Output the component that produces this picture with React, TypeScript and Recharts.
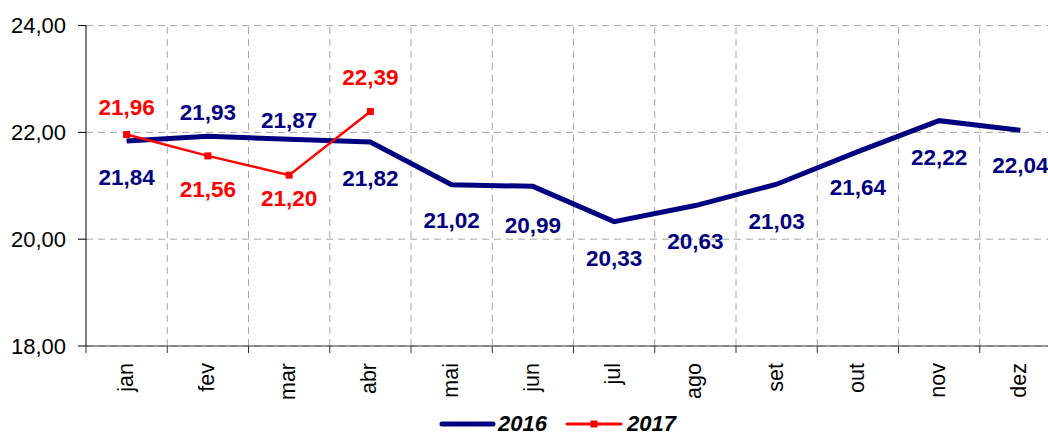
import { LineChart, Line, XAxis, YAxis, CartesianGrid, ReferenceLine, Legend, LabelList } from 'recharts';

const months = ['jan', 'fev', 'mar', 'abr', 'mai', 'jun', 'jul', 'ago', 'set', 'out', 'nov', 'dez'];
const values2016 = [21.84, 21.93, 21.87, 21.82, 21.02, 20.99, 20.33, 20.63, 21.03, 21.64, 22.22, 22.04];
const values2017 = [21.96, 21.56, 21.2, 22.39];
const yTicks = [18, 20, 22, 24];

// vertical offset of each data label from its point
const labelDy2016 = [37, -24, -19, 36, 36, 39, 37, 36, 37, 36, 37, 35];
const labelDy2017 = [-27, 34, 23, -34];

const NAVY = '#000080';
const RED = '#ff0000';
const FONT = '"Liberation Sans", Arial, sans-serif';

const data = months.map((m, i) => ({
  x: i + 0.5,
  month: m,
  y2016: values2016[i],
  y2017: i < values2017.length ? values2017[i] : null,
}));

const boundaries = months.map((_, i) => i).concat(months.length);
const xTicks = [...boundaries, ...months.map((_, i) => i + 0.5)].sort((a, b) => a - b);

const fmt = (v: number) => v.toFixed(2).replace('.', ',');

const XTick = ({ x, y, payload }: any) => {
  const v = payload.value;
  if (Number.isInteger(v)) {
    return <line x1={x} x2={x} y1={y} y2={y + 7} stroke="#333" />;
  }
  const ty = y + 17;
  return (
    <text x={x} y={ty} dy={6} transform={`rotate(-90, ${x}, ${ty})`} textAnchor="end"
      fontSize={21.5} fontFamily={FONT} fill="#000">
      {months[Math.floor(v)]}
    </text>
  );
};

const makeLabel = (offsets: number[], color: string) => (props: any) => {
  const { value, index } = props;
  if (value == null) return null;
  const x = props.x ?? props.viewBox?.x;
  const y = props.y ?? props.viewBox?.y;
  return (
    <text x={x} y={y + offsets[index]} textAnchor="middle" dominantBaseline="central"
      fontSize={22.5} fontWeight="bold" fontFamily={FONT} fill={color}>
      {fmt(value)}
    </text>
  );
};

const SquareDot = (p: any) => {
  if (p.value == null || p.cy == null) return <g key={`d${p.index}`} />;
  return <rect key={`d${p.index}`} x={p.cx - 3.5} y={p.cy - 3.5} width={7} height={7} fill={RED} />;
};

const renderLegend = () => (
  <div style={{
    height: 30, boxSizing: 'border-box', paddingTop: 7, paddingLeft: 438, display: 'flex', alignItems: 'center',
    fontFamily: FONT, fontWeight: 'bold', fontStyle: 'italic', fontSize: 22, lineHeight: '23px', color: '#000',
  }}>
    <svg width={58} height={12}>
      <line x1={4} x2={55} y1={6} y2={6} stroke={NAVY} strokeWidth={5} strokeLinecap="round" />
    </svg>
    <span style={{ marginLeft: 2 }}>2016</span>
    <svg width={58} height={12} style={{ marginLeft: 18 }}>
      <line x1={2} x2={56} y1={6} y2={6} stroke={RED} strokeWidth={3} strokeLinecap="round" />
      <rect x={25.5} y={2.5} width={7} height={7} fill={RED} />
    </svg>
    <span style={{ marginLeft: 4 }}>2017</span>
  </div>
);

export default function App() {
  return (
    <div style={{ position: 'absolute', left: 0, top: 0, width: 1048, height: 435, overflow: 'hidden', background: '#fff' }}>
      <LineChart width={1070} height={435} data={data} margin={{ top: 25.6, right: 9, left: 0, bottom: 0 }}>
        <CartesianGrid vertical={false} stroke="#a6a6a6" strokeDasharray="7 5" />
        {boundaries.slice(1).map(b => (
          <ReferenceLine key={b} x={b} stroke="#a6a6a6" strokeDasharray="7 5" />
        ))}
        <XAxis dataKey="x" type="number" domain={[0, months.length]} ticks={xTicks} interval={0}
          tick={<XTick />} tickLine={false} tickSize={0} tickMargin={0} height={59}
          axisLine={{ stroke: '#333' }} allowDecimals />
        <YAxis domain={[18, 24]} ticks={yTicks} interval={0} tickFormatter={fmt} width={86}
          tick={{ fontSize: 22, fill: '#000', fontFamily: FONT }} tickSize={8} tickMargin={12}
          axisLine={{ stroke: '#000' }} tickLine={{ stroke: '#000' }} />
        <Legend verticalAlign="bottom" height={30} content={renderLegend} wrapperStyle={{ left: 0, width: 1070 }} />
        <Line dataKey="y2016" stroke={NAVY} strokeWidth={5} dot={false} isAnimationActive={false}>
          <LabelList dataKey="y2016" content={makeLabel(labelDy2016, NAVY)} />
        </Line>
        <Line dataKey="y2017" stroke={RED} strokeWidth={2.5} dot={SquareDot} activeDot={false} isAnimationActive={false}>
          <LabelList dataKey="y2017" content={makeLabel(labelDy2017, RED)} />
        </Line>
      </LineChart>
    </div>
  );
}
